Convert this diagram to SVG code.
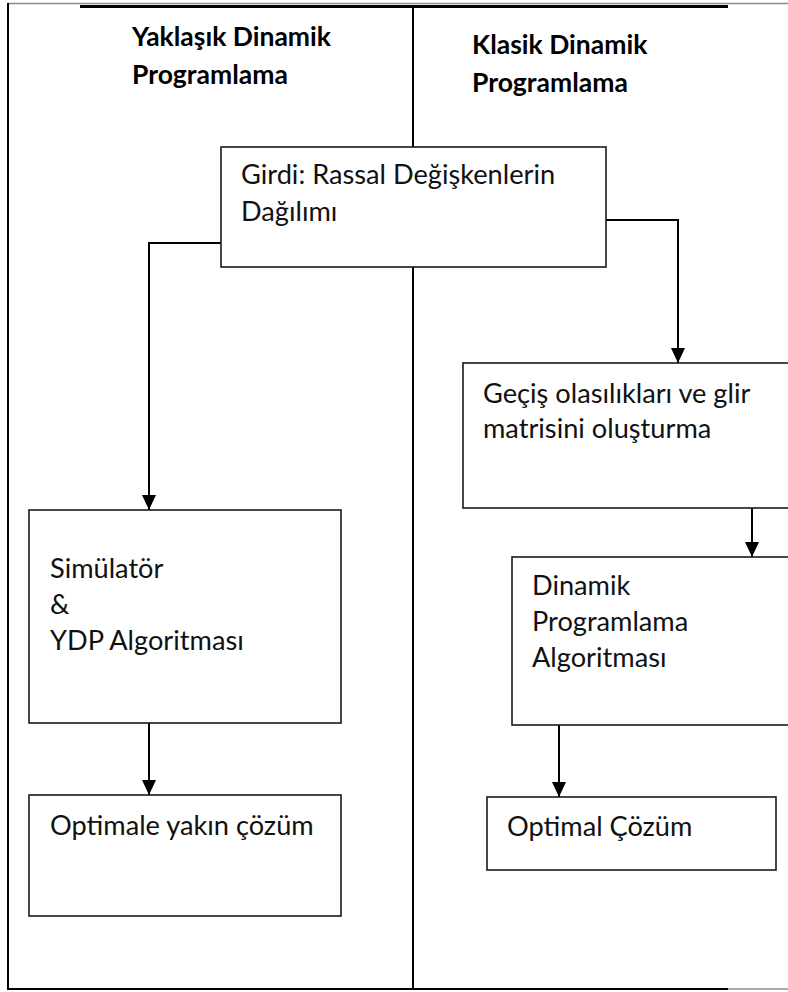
<svg xmlns="http://www.w3.org/2000/svg" width="788" height="992" viewBox="0 0 788 992">
  <style>
    .frame { stroke: #000; stroke-width: 2; fill: none; }
    .frame-soft { stroke: #8c8c8c; stroke-width: 1.5; fill: none; }
    .box { fill: #fff; stroke: #1a1a1a; stroke-width: 1.6; }
    .link { stroke: #000; stroke-width: 2; fill: none; }
    .label { font-family: Lato, "Open Sans", "Liberation Sans", sans-serif; font-size: 27.2px; fill: #111; }
    .head { font-family: Lato, "Open Sans", "Liberation Sans", sans-serif; font-size: 26.5px; font-weight: bold; fill: #000; }
  </style>
  <defs>
    <marker id="arrow" viewBox="0 0 15 14" refX="15" refY="7" markerWidth="15" markerHeight="14" markerUnits="userSpaceOnUse" orient="auto">
      <path d="M0,0 L15,7 L0,14 Z" fill="#000"/>
    </marker>
  </defs>

  <rect width="788" height="992" fill="#fff"/>

  <!-- table frame and column divider -->
  <g id="frame">
    <line class="frame-soft" x1="7" y1="3.5" x2="788" y2="3.5"/>
    <line x1="80" y1="6.5" x2="728" y2="6.5" stroke="#000" stroke-width="3"/>
    <line class="frame" x1="8" y1="3" x2="8" y2="990"/>
    <line class="frame" x1="413" y1="6" x2="413" y2="988"/>
    <line class="frame" x1="7" y1="989" x2="728" y2="989"/>
    <line class="frame-soft" x1="728" y1="989" x2="788" y2="989"/>
  </g>

  <!-- column headings -->
  <g id="head-left">
    <text class="head" x="132" y="46">Yaklaşık Dinamik</text>
    <text class="head" x="132" y="84">Programlama</text>
  </g>
  <g id="head-right">
    <text class="head" x="472" y="54">Klasik Dinamik</text>
    <text class="head" x="472" y="92">Programlama</text>
  </g>

  <!-- connectors -->
  <g id="connectors">
    <polyline class="link" points="221,243 149,243 149,510" marker-end="url(#arrow)"/>
    <polyline class="link" points="606,220 678,220 678,363" marker-end="url(#arrow)"/>
    <line class="link" x1="149" y1="723" x2="149" y2="795" marker-end="url(#arrow)"/>
    <line class="link" x1="752" y1="508" x2="752" y2="557" marker-end="url(#arrow)"/>
    <line class="link" x1="559" y1="725" x2="559" y2="797" marker-end="url(#arrow)"/>
  </g>

  <!-- nodes -->
  <g id="girdi">
    <rect class="box" x="221" y="147" width="385" height="120"/>
    <text class="label" x="241" y="184">Girdi: Rassal Değişkenlerin</text>
    <text class="label" x="241" y="221">Dağılımı</text>
  </g>

  <g id="simulator">
    <rect class="box" x="29" y="510" width="312" height="213"/>
    <text class="label" x="50" y="578">Simülatör</text>
    <text class="label" x="50" y="614">&amp;</text>
    <text class="label" x="50" y="650">YDP Algoritması</text>
  </g>

  <g id="optimale">
    <rect class="box" x="29" y="795" width="312" height="121"/>
    <text class="label" x="50" y="835">Optimale yakın çözüm</text>
  </g>

  <g id="gecis">
    <rect class="box" x="463" y="363" width="340" height="145"/>
    <text class="label" x="483" y="403">Geçiş olasılıkları ve glir</text>
    <text class="label" x="483" y="438">matrisini oluşturma</text>
  </g>

  <g id="dinamik">
    <rect class="box" x="512" y="557" width="300" height="168"/>
    <text class="label" x="532" y="595">Dinamik</text>
    <text class="label" x="532" y="631">Programlama</text>
    <text class="label" x="532" y="667">Algoritması</text>
  </g>

  <g id="optimal">
    <rect class="box" x="487" y="797" width="289" height="73"/>
    <text class="label" x="507" y="836">Optimal Çözüm</text>
  </g>
</svg>
